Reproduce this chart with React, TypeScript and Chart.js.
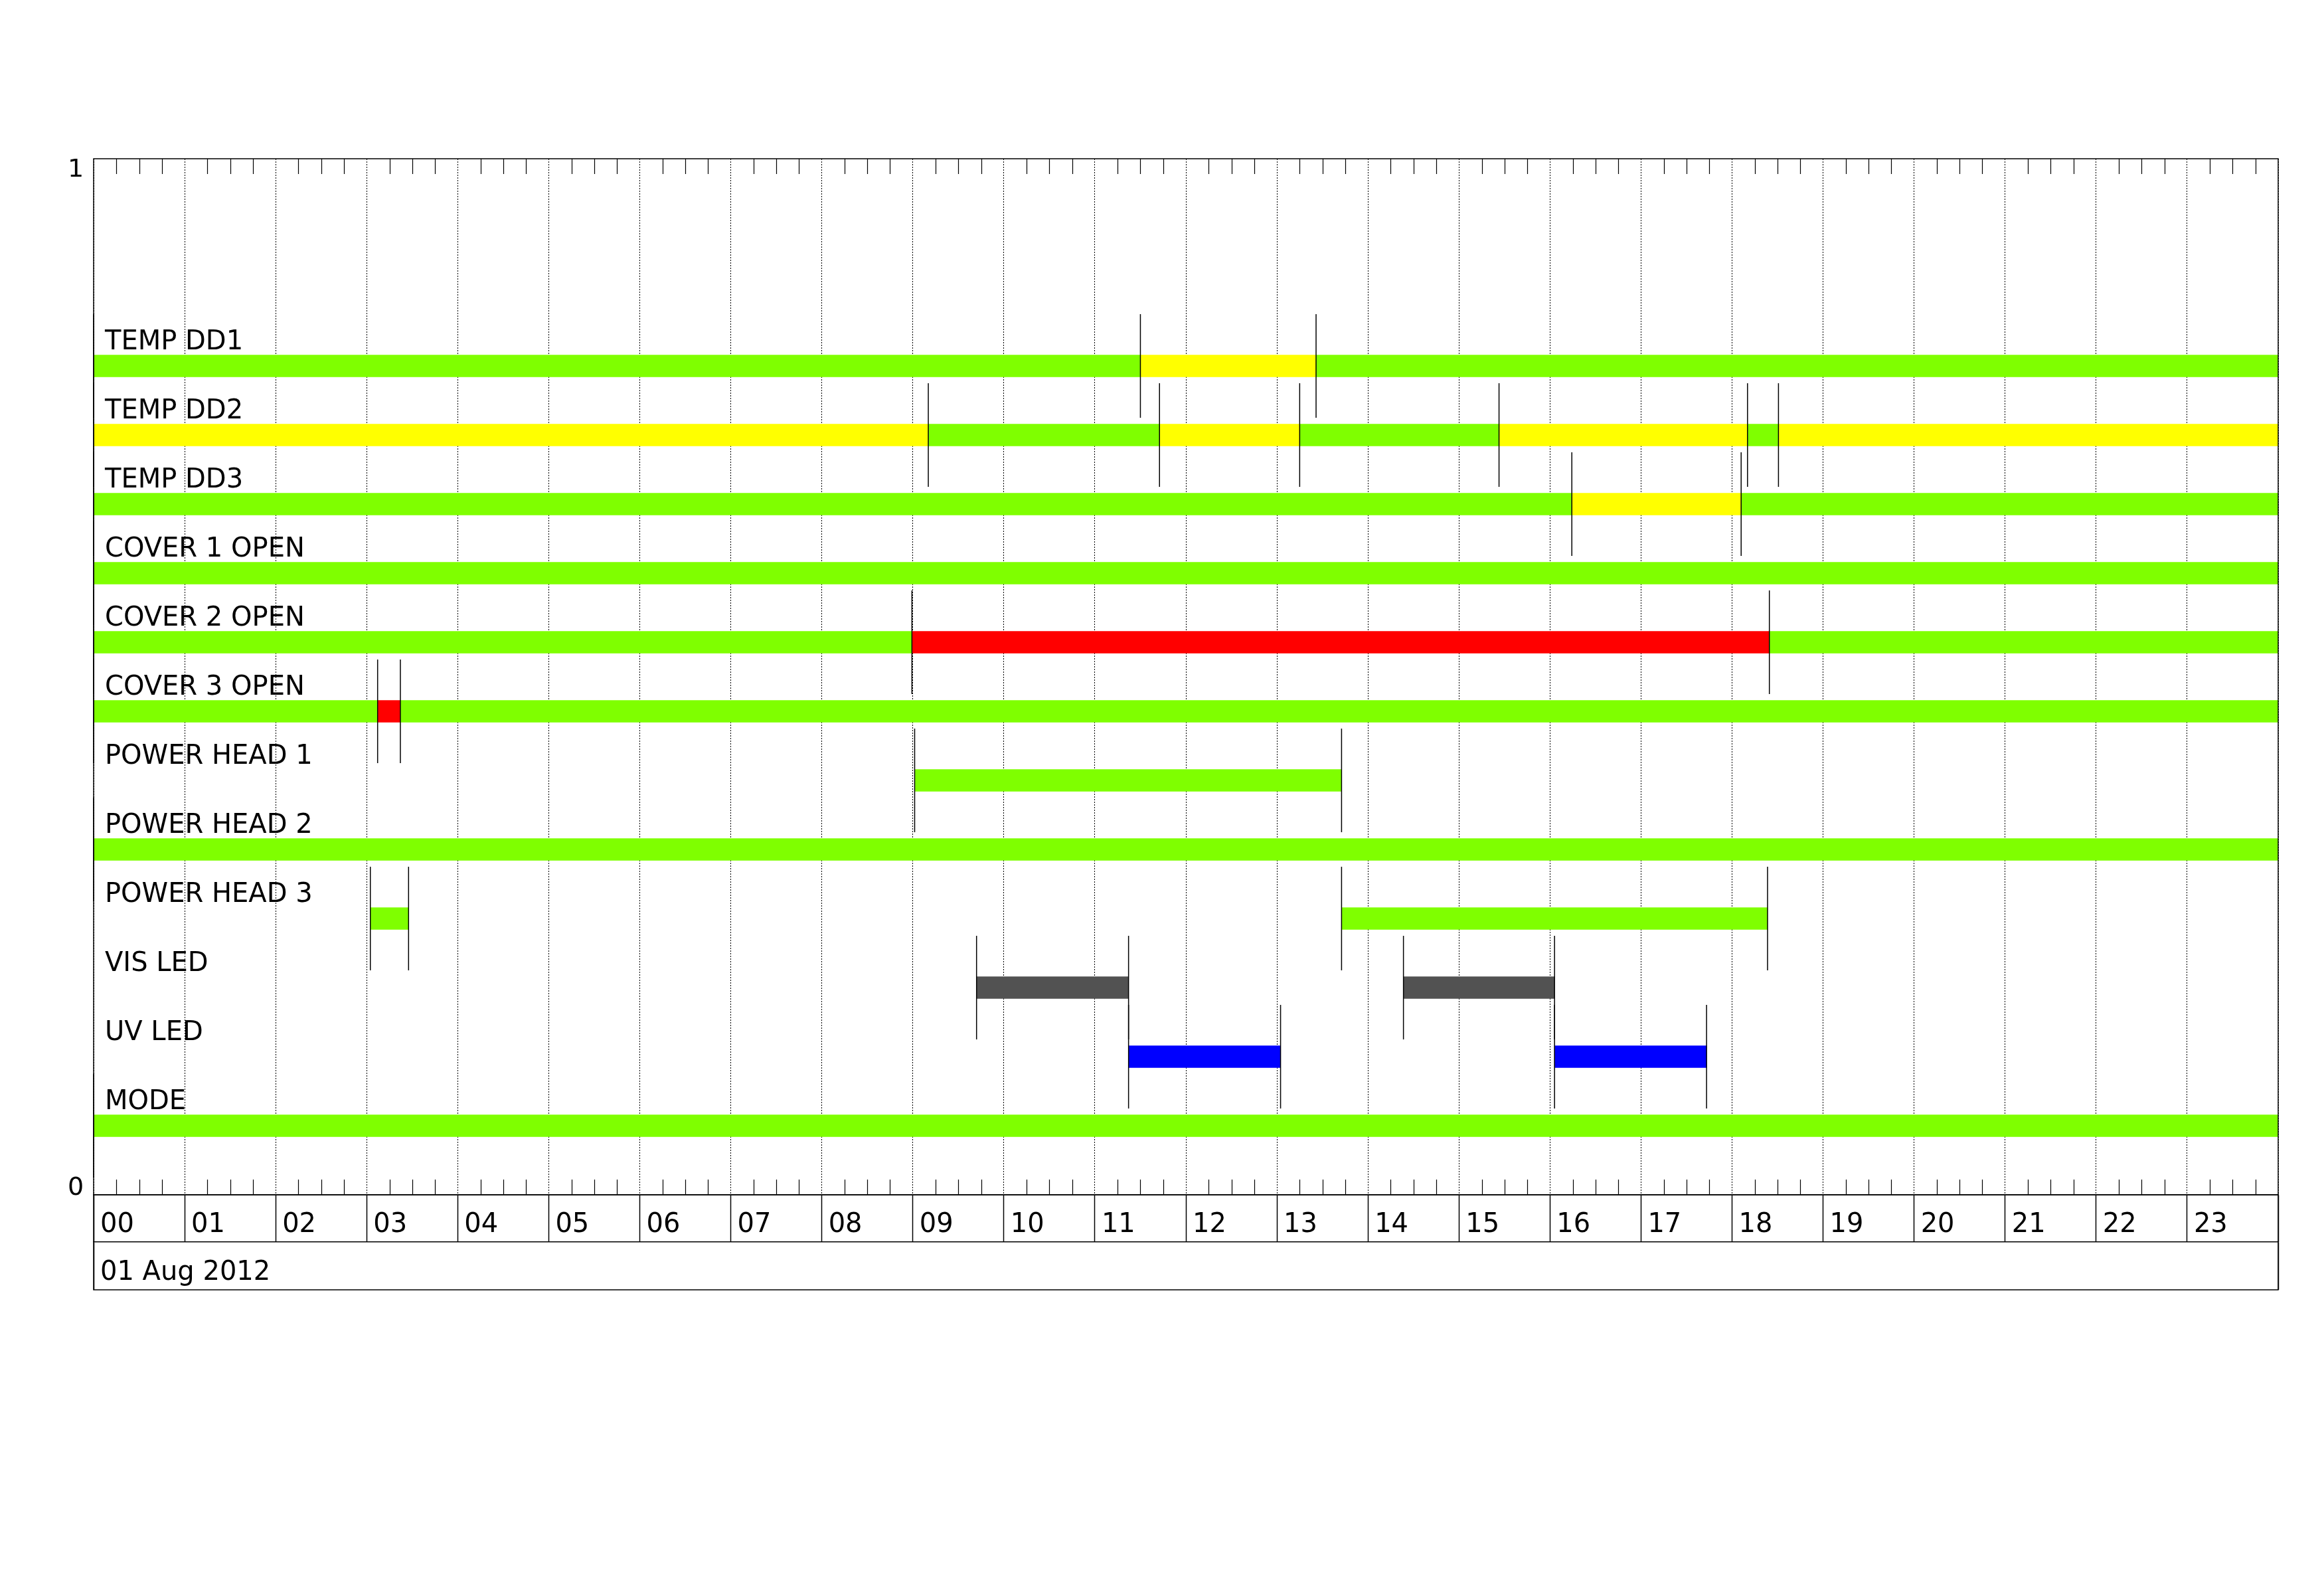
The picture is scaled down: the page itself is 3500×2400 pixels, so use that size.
import React, { useEffect, useRef } from 'react';
import { Chart, registerables } from 'chart.js';

Chart.register(...registerables);

// ---------- data ----------
const HOUR_LABELS = ['00', '01', '02', '03', '04', '05', '06', '07', '08', '09', '10', '11',
  '12', '13', '14', '15', '16', '17', '18', '19', '20', '21', '22', '23'];
const DATE_LABEL = '01 Aug 2012';
const Y_TICK_LABELS = ['0', '1'];

const ROW_LABELS = [
  'TEMP DD1', 'TEMP DD2', 'TEMP DD3',
  'COVER 1 OPEN', 'COVER 2 OPEN', 'COVER 3 OPEN',
  'POWER HEAD 1', 'POWER HEAD 2', 'POWER HEAD 3',
  'VIS LED', 'UV LED', 'MODE',
];

// [start hour, end hour, state]
type Seg = [number, number, string];
const TEMP_DD1: Seg[] = [[0, 11.5, 'ok'], [11.5, 13.43, 'warn'], [13.43, 24, 'ok']];
const TEMP_DD2: Seg[] = [
  [0, 9.17, 'warn'], [9.17, 11.71, 'ok'], [11.71, 13.25, 'warn'], [13.25, 15.44, 'ok'],
  [15.44, 18.17, 'warn'], [18.17, 18.51, 'ok'], [18.51, 24, 'warn'],
];
const TEMP_DD3: Seg[] = [[0, 16.24, 'ok'], [16.24, 18.1, 'warn'], [18.1, 24, 'ok']];
const COVER_1: Seg[] = [[0, 24, 'ok']];
const COVER_2: Seg[] = [[0, 8.99, 'ok'], [8.99, 18.41, 'alarm'], [18.41, 24, 'ok']];
const COVER_3: Seg[] = [[0, 3.12, 'ok'], [3.12, 3.37, 'alarm'], [3.37, 24, 'ok']];
const POWER_HEAD_1: Seg[] = [[9.02, 13.71, 'ok']];
const POWER_HEAD_2: Seg[] = [[0, 24, 'ok']];
const POWER_HEAD_3: Seg[] = [[3.04, 3.46, 'ok'], [13.71, 18.39, 'ok']];
const VIS_LED: Seg[] = [[9.7, 11.37, 'vis'], [14.39, 16.05, 'vis']];
const UV_LED: Seg[] = [[11.37, 13.04, 'uv'], [16.05, 17.72, 'uv']];
const MODE: Seg[] = [[0, 24, 'ok']];

const ROW_SEGMENTS: Seg[][] = [
  TEMP_DD1, TEMP_DD2, TEMP_DD3, COVER_1, COVER_2, COVER_3,
  POWER_HEAD_1, POWER_HEAD_2, POWER_HEAD_3, VIS_LED, UV_LED, MODE,
];

// ---------- styles ----------
const STATE_COLORS: Record<string, string> = {
  ok: '#7FFF00',
  warn: '#FFFF00',
  alarm: '#FF0000',
  vis: '#525252',
  uv: '#0000FF',
};
const FONT_FAMILY = "'DejaVu Sans', sans-serif";
const ROW_STEP = 1 / 15;
const MARKER_HALF = 0.05; // in y units
const rowValue = (i: number) => (ROW_LABELS.length - i) * ROW_STEP;

const framePlugin = {
  id: 'framePlugin',
  afterDraw(chart: any) {
    const { ctx, chartArea: a, scales } = chart;
    const x = scales.x;
    const x2 = scales.x2;
    const y = scales.y;
    ctx.save();
    ctx.strokeStyle = '#000';
    ctx.lineWidth = 1.5;
    ctx.strokeRect(a.left, a.top, a.right - a.left, a.bottom - a.top);
    ctx.beginPath();
    ctx.moveTo(a.left, a.bottom);
    ctx.lineTo(a.left, x2.bottom);
    ctx.lineTo(a.right, x2.bottom);
    ctx.lineTo(a.right, a.bottom);
    ctx.stroke();
    // quarter-hour minor ticks (top and bottom, inward)
    const len = 23;
    ctx.lineWidth = 1.2;
    ctx.beginPath();
    for (let q = 1; q < HOUR_LABELS.length * 4; q++) {
      if (q % 4 === 0) continue;
      const px = Math.round(x.getPixelForValue(q / 4)) + 0.5;
      ctx.moveTo(px, a.top);
      ctx.lineTo(px, a.top + len);
      ctx.moveTo(px, a.bottom);
      ctx.lineTo(px, a.bottom - len);
    }
    ctx.stroke();
    // y-axis labels 0 and 1
    ctx.fillStyle = '#000';
    ctx.font = `38px ${FONT_FAMILY}`;
    ctx.textAlign = 'center';
    ctx.textBaseline = 'alphabetic';
    ctx.fillText(Y_TICK_LABELS[1], a.left - 27, y.getPixelForValue(1) + 27);
    ctx.fillText(Y_TICK_LABELS[0], a.left - 27, y.getPixelForValue(0));
    ctx.restore();
  },
};

export default function App() {
  const canvasRef = useRef<HTMLCanvasElement | null>(null);

  useEffect(() => {
    const canvas = canvasRef.current;
    if (!canvas) return;

    const barData = ROW_SEGMENTS.flatMap((segs, r) =>
      segs.map(([a, b, s]) => ({ y: rowValue(r), x: [a, b], state: s })),
    );
    const markerData = ROW_SEGMENTS.flatMap((segs, r) => {
      const ts: number[] = [];
      segs.forEach(([a, b]) => {
        if (!ts.includes(a)) ts.push(a);
        if (b < HOUR_LABELS.length && !ts.includes(b)) ts.push(b);
      });
      return ts.map((t) => ({ x: t, y: rowValue(r) }));
    });

    const tickFont = { family: FONT_FAMILY, size: 40, lineHeight: 1.2 };

    const chart = new Chart(canvas, {
      type: 'bar',
      data: {
        datasets: [
          {
            type: 'scatter',
            label: 'transitions',
            indexAxis: 'x',
            xAxisID: 'x',
            yAxisID: 'y',
            data: markerData,
            showLine: false,
            pointStyle: 'line',
            pointRotation: 90,
            pointRadius: (c: any) => {
              const ys = c.chart.scales.y;
              return Math.abs(ys.getPixelForValue(0) - ys.getPixelForValue(MARKER_HALF));
            },
            pointBorderColor: '#000',
            pointBorderWidth: 1.5,
            pointBackgroundColor: '#000',
            clip: false,
            order: 0,
          } as any,
          {
            type: 'bar',
            label: 'states',
            indexAxis: 'y',
            xAxisID: 'x',
            yAxisID: 'y',
            data: barData,
            grouped: false,
            barThickness: 33,
            borderWidth: 0,
            backgroundColor: (c: any) => STATE_COLORS[c.raw ? c.raw.state : 'ok'],
            order: 1,
          } as any,
        ],
      },
      options: {
        animation: false,
        responsive: false,
        maintainAspectRatio: false,
        devicePixelRatio: 1,
        events: [],
        layout: { padding: { left: 141, top: 239, right: 69, bottom: 458 } },
        plugins: {
          legend: { display: false },
          tooltip: { enabled: false },
        },
        scales: {
          x: {
            type: 'linear',
            axis: 'x',
            position: 'bottom',
            weight: 0,
            min: 0,
            max: HOUR_LABELS.length,
            offset: false,
            afterBuildTicks: (s: any) => {
              s.ticks = HOUR_LABELS.map((_, i) => ({ value: i })).concat([{ value: HOUR_LABELS.length }]);
            },
            afterFit: (s: any) => { s.height = 71; },
            grid: {
              display: true,
              offset: false,
              drawOnChartArea: true,
              drawTicks: true,
              tickLength: 71,
              color: '#000',
              lineWidth: 1,
              tickColor: '#000',
              tickWidth: 1.5,
              tickBorderDash: [],
            },
            border: { display: true, color: '#000', width: 1.5, dash: [2, 2] },
            ticks: {
              autoSkip: false,
              maxRotation: 0,
              minRotation: 0,
              align: 'start',
              labelOffset: 10,
              padding: -49,
              color: '#000',
              font: tickFont,
              callback: (v: any) => (HOUR_LABELS[v] !== undefined ? HOUR_LABELS[v] : ''),
            },
          },
          x2: {
            type: 'linear',
            axis: 'x',
            position: 'bottom',
            weight: 1,
            min: 0,
            max: HOUR_LABELS.length,
            offset: false,
            afterBuildTicks: (s: any) => {
              s.ticks = [{ value: 0 }, { value: HOUR_LABELS.length }];
            },
            afterFit: (s: any) => { s.height = 72; },
            grid: {
              display: true,
              offset: false,
              drawOnChartArea: false,
              drawTicks: true,
              tickLength: 72,
              color: '#000',
              tickColor: '#000',
              tickWidth: 1.5,
            },
            border: { display: true, color: '#000', width: 1.5 },
            ticks: {
              autoSkip: false,
              maxRotation: 0,
              minRotation: 0,
              align: 'start',
              labelOffset: 10,
              padding: -49,
              color: '#000',
              font: tickFont,
              callback: (v: any) => (v === 0 ? DATE_LABEL : ''),
            },
          },
          y: {
            type: 'linear',
            axis: 'y',
            position: 'left',
            min: 0,
            max: 1,
            offset: false,
            afterBuildTicks: (s: any) => {
              s.ticks = ROW_LABELS.map((_, i) => ({ value: rowValue(i) }));
            },
            afterFit: (s: any) => { s.width = 0; },
            grid: { display: false, drawTicks: false, offset: false },
            border: { display: false },
            ticks: {
              mirror: true,
              padding: 17,
              labelOffset: -35,
              autoSkip: false,
              color: '#000',
              font: tickFont,
              callback: (_v: any, i: number) => ROW_LABELS[i],
            },
          },
        },
      } as any,
      plugins: [framePlugin],
    });

    return () => chart.destroy();
  }, []);

  return (
    <div style={{ position: 'absolute', left: 0, top: 0, width: 3500, height: 2400, background: '#fff' }}>
      <canvas
        ref={canvasRef}
        width={3500}
        height={2400}
        style={{ display: 'block', width: 3500, height: 2400 }}
      />
    </div>
  );
}
